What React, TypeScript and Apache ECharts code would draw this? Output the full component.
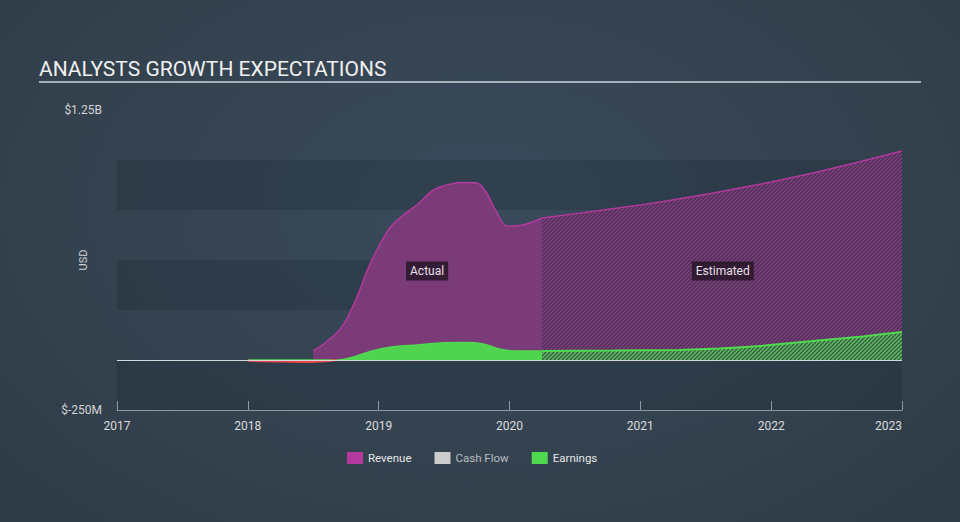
import React, { useEffect, useRef } from "react";
import * as echarts from "echarts";

const TITLE = "ANALYSTS GROWTH EXPECTATIONS";
const xTicks = [2017, 2018, 2019, 2020, 2021, 2022, 2023];
const yMinLabel = "$-250M";
const yMaxLabel = "$1.25B";

// [year, value in $B]
const revenueActual: [number, number][] = [
  [2018.5, 0.045], [2018.6, 0.09], [2018.7, 0.15], [2018.76, 0.21], [2018.85, 0.34],
  [2018.92, 0.46], [2019.0, 0.565], [2019.09, 0.665], [2019.18, 0.72], [2019.3, 0.78],
  [2019.42, 0.85], [2019.55, 0.88], [2019.65, 0.887], [2019.75, 0.885], [2019.82, 0.84],
  [2019.9, 0.74], [2019.98, 0.67], [2020.1, 0.675], [2020.25, 0.71],
];
const revenueEstimated: [number, number][] = [
  [2020.25, 0.71], [2020.8, 0.757], [2021.2, 0.795], [2021.56, 0.835], [2022.0, 0.89],
  [2022.32, 0.935], [2022.7, 0.995], [2023.0, 1.045],
];
const earningsNegative: [number, number][] = [
  [2018.0, -0.004], [2018.2, -0.007], [2018.45, -0.01], [2018.6, -0.006], [2018.68, 0.0],
];
const earningsActual: [number, number][] = [
  [2018.0, 0.0], [2018.68, 0.0], [2018.8, 0.014], [2018.95, 0.045], [2019.1, 0.065],
  [2019.3, 0.075], [2019.5, 0.086], [2019.65, 0.087], [2019.8, 0.08], [2019.92, 0.055],
  [2020.05, 0.045], [2020.25, 0.045],
];
const earningsEstimated: [number, number][] = [
  [2020.25, 0.045], [2020.8, 0.047], [2021.3, 0.05], [2021.6, 0.057], [2021.95, 0.072],
  [2022.32, 0.095], [2022.7, 0.118], [2023.0, 0.14],
];
const cashFlow: [number, number][] = [];

function hatch(base: string, line: string, size = 4, width = 1.3) {
  const c = document.createElement("canvas");
  c.width = size;
  c.height = size;
  const ctx = c.getContext("2d")!;
  ctx.fillStyle = base;
  ctx.fillRect(0, 0, size, size);
  ctx.strokeStyle = line;
  ctx.lineWidth = width;
  ctx.beginPath();
  ctx.moveTo(0, size);
  ctx.lineTo(size, 0);
  ctx.moveTo(-1, 1);
  ctx.lineTo(1, -1);
  ctx.moveTo(size - 1, size + 1);
  ctx.lineTo(size + 1, size - 1);
  ctx.stroke();
  return { image: c, repeat: "repeat" as const };
}

export default function App() {
  const ref = useRef<HTMLDivElement>(null);
  useEffect(() => {
    if (!ref.current) return;
    const chart = echarts.init(ref.current, undefined, { renderer: "svg" });
    const REV_LINE = "#b3399f";
    const REV_FILL = "#7b3a78";
    const EARN = "#4fd94f";
    const labelBox = {
      show: true,
      position: "inside",
      color: "#e8e0ea",
      fontSize: 12,
      fontFamily: "Roboto",
      backgroundColor: "rgba(40,22,42,0.85)",
      padding: [4, 4, 3, 4],
    };
    chart.setOption({
      animation: false,
      backgroundColor: "transparent",
      textStyle: { fontFamily: "Roboto" },
      title: {
        text: TITLE,
        left: 39,
        top: 58,
        padding: 0,
        textStyle: { color: "#f0f0f0", fontSize: 21, fontWeight: "normal", fontFamily: "Roboto" },
      },
      graphic: [
        { type: "line", shape: { x1: 39, y1: 82, x2: 921, y2: 82 }, style: { stroke: "#a7afb8", lineWidth: 2 } },
      ],
      legend: {
        bottom: 53,
        left: 342,
        padding: 5,
        itemWidth: 16,
        itemHeight: 12,
        itemGap: 23,
        icon: "rect",
        data: [
          { name: "Revenue", textStyle: { color: "#e6e6e6" } },
          { name: "Cash Flow", textStyle: { color: "#b8bcc0" } },
          { name: "Earnings", textStyle: { color: "#e6e6e6" } },
        ],
        textStyle: { fontSize: 11.5, fontFamily: "Roboto" },
      },
      grid: { left: 117, right: 58, top: 110, bottom: 112 },
      xAxis: {
        type: "value",
        min: xTicks[0],
        max: xTicks[xTicks.length - 1],
        interval: 1,
        axisLine: { show: true, onZero: false, lineStyle: { color: "#8d99a6", width: 1 } },
        axisTick: { show: true, inside: true, length: 9, lineStyle: { color: "#8d99a6" } },
        axisLabel: {
          color: "#dcdcdc",
          fontSize: 12,
          margin: 10,
          alignMaxLabel: "right",
          formatter: (v: number) => (xTicks.includes(v) ? String(v) : ""),
        },
        splitLine: { show: false },
      },
      yAxis: {
        type: "value",
        min: -0.25,
        max: 1.25,
        interval: 0.25,
        name: "USD",
        nameLocation: "middle",
        nameGap: 28,
        nameMoveOverlap: false,
        nameTextStyle: { color: "#cfd3d8", fontSize: 11 },
        axisLine: { show: false },
        axisTick: { show: false },
        axisLabel: {
          color: "#d4d4d4",
          fontSize: 12,
          margin: 15,
          formatter: (v: number) =>
            Math.abs(v - 1.25) < 1e-9 ? yMaxLabel : Math.abs(v + 0.25) < 1e-9 ? yMinLabel : "",
        },
        splitLine: { show: false },
        splitArea: {
          show: true,
          areaStyle: { color: ["rgba(20,30,40,0.22)", "rgba(0,0,0,0)"] },
        },
      },
      series: [
        {
          name: "Revenue",
          type: "line",
          data: revenueActual,
          smooth: 0.35,
          symbol: "none",
          color: REV_LINE,
          lineStyle: { color: REV_LINE, width: 1.5 },
          areaStyle: { color: REV_FILL, opacity: 1 },
          markPoint: {
            symbol: "rect",
            symbolSize: 1,
            itemStyle: { color: "rgba(0,0,0,0)" },
            data: [
              { coord: [2019.37, 0.445], value: "Actual", label: { ...labelBox, formatter: "Actual" } },
              { coord: [2021.63, 0.445], value: "Estimated", label: { ...labelBox, formatter: "Estimated" } },
            ],
          },
          z: 2,
        },
        {
          name: "Revenue",
          type: "line",
          data: revenueEstimated,
          smooth: 0.2,
          symbol: "none",
          color: REV_LINE,
          lineStyle: { color: REV_LINE, width: 1.5 },
          areaStyle: { color: hatch("#4b3454", "#853c82"), opacity: 1 },
          z: 2,
        },
        {
          name: "Cash Flow",
          type: "line",
          data: cashFlow,
          symbol: "none",
          color: "#cccccc",
        },
        {
          name: "Earnings",
          type: "line",
          data: earningsActual,
          smooth: 0.35,
          symbol: "none",
          color: EARN,
          lineStyle: { color: EARN, width: 1.5 },
          areaStyle: { color: "#50d450", opacity: 1 },
          z: 3,
        },
        {
          name: "Earnings",
          type: "line",
          data: earningsEstimated,
          smooth: 0.2,
          symbol: "none",
          color: EARN,
          lineStyle: { color: EARN, width: 2 },
          areaStyle: { color: hatch("#3d584b", "#5bc95b"), opacity: 1 },
          z: 3,
        },
        {
          name: "EarningsNeg",
          type: "line",
          data: earningsNegative,
          smooth: 0.3,
          symbol: "none",
          color: "#e8474a",
          lineStyle: { color: "#e8474a", width: 2 },
          z: 4,
          markLine: {
            silent: true,
            symbol: "none",
            label: { show: false },
            lineStyle: { color: "#d6d9dc", width: 1.2, type: "solid" },
            data: [{ yAxis: 0 }],
          },
        },
      ],
    });
    return () => chart.dispose();
  }, []);
  return (
    <div
      style={{
        position: "absolute",
        left: 0,
        top: 0,
        width: 960,
        height: 522,
        background: "radial-gradient(ellipse at 50% 40%, #3a4a5b 0%, #34424f 60%, #2e3a46 100%)",
      }}
    >
      <div ref={ref} style={{ width: 960, height: 522 }} />
    </div>
  );
}
